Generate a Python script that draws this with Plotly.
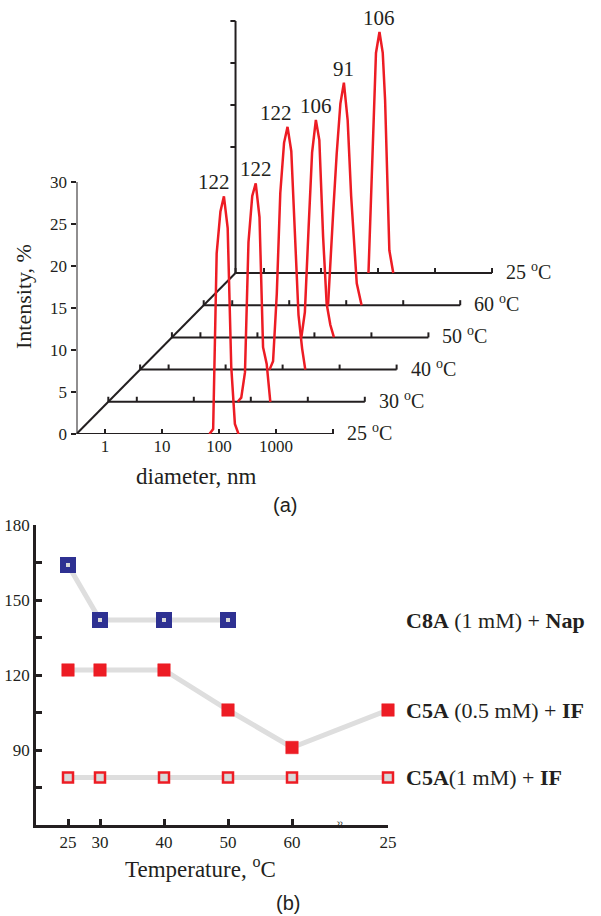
import numpy as np
import plotly.graph_objects as go

# ---------------- data: (a) DLS size distributions ----------------
temp_labels = ["25 <sup>o</sup>C", "30 <sup>o</sup>C", "40 <sup>o</sup>C",
               "50 <sup>o</sup>C", "60 <sup>o</sup>C", "25 <sup>o</sup>C"]

diam_25a = [68, 79, 91, 106, 122, 142, 164, 190, 220]
int_25a = [0, 0.6, 21.5, 26.5, 28.3, 24.5, 8.0, 1.2, 0]

diam_30 = [59, 68, 79, 91, 106, 122, 142, 164, 190, 220]
int_30 = [0, 0.5, 3.5, 19.0, 24.5, 26.0, 22.0, 6.5, 4.5, 0]

diam_40 = [59, 68, 79, 91, 106, 122, 142, 164, 190, 220, 250]
int_40 = [0, 1.0, 9.0, 21.0, 27.0, 28.9, 26.0, 16.0, 6.5, 2.5, 0]

diam_50 = [59, 68, 79, 91, 106, 122, 142, 164, 190, 220]
int_50 = [0, 3.0, 13.0, 22.0, 25.9, 23.5, 12.0, 4.0, 1.5, 0]

diam_60 = [48, 52, 59, 68, 79, 91, 106, 122, 142, 153, 186]
int_60 = [0, 4.6, 11.0, 18.0, 24.0, 26.5, 22.0, 13.0, 6.2, 2.6, 0]

diam_25b = [68, 79, 92, 106, 121, 133, 151, 158, 185]
int_25b = [0, 13.0, 26.2, 28.7, 26.2, 20.6, 6.3, 2.7, 0]

peak_diam = [122, 122, 122, 106, 91, 106]

size_x_ticks = [1, 10, 100, 1000]
intensity_ticks = [0, 5, 10, 15, 20, 25, 30]
back_wall_ticks = [15, 20, 25, 30]

# ---------------- data: (b) peak diameter vs temperature ----------------
step_pos = [25, 30, 40, 50, 60, 75]          # last step = return to 25 after the break
step_labels = ["25", "30", "40", "50", "60", "25"]
c8a_nap = [164, 142, 142, 142]
c5a_05_if = [122, 122, 122, 106, 91, 106]
c5a_1_if = [79, 79, 79, 79, 79, 79]
y_ticks_b = [75, 90, 105, 120, 135, 150, 165, 180]
y_labels_b = ["", "90", "", "120", "", "150", "", "180"]

# ---------------- style ----------------
INK = "#231f20"
RED = "#ed1c24"
NAVY = "#2e3192"
GREY_LINE = "#dedede"
GREY_FILL = "#d9d9d9"
SERIF = "Liberation Serif"
SANS = "Liberation Sans"

W, H = 601, 916
DX, DY = 0.558, 3.833        # oblique offset per temperature step (decades, %)
L_MIN, L_MAX = -0.5, 4.0      # log10 span of every floor line
TICK_UP = 0.6                 # tick length on floor lines (in % units)
TICK_LEFT = 0.09              # tick length on back wall (in decades)


def proj(logd, inten, depth):
    return logd + depth * DX, inten + depth * DY


fig = go.Figure()

# ---- oblique frame of panel (a) ----
fx, fy = [], []


def seg(p, q):
    fx.extend([p[0], q[0], None])
    fy.extend([p[1], q[1], None])


n_depth = len(temp_labels)
# front vertical axis
seg(proj(L_MIN, 0, 0), proj(L_MIN, max(intensity_ticks), 0))
# diagonal temperature axis
seg(proj(L_MIN, 0, 0), proj(L_MIN, 0, n_depth - 1))
for i in range(n_depth):
    seg(proj(L_MIN, 0, i), proj(L_MAX, 0, i))
    # end cap
    x0, y0 = proj(L_MAX, 0, i)
    seg((x0, y0), (x0, y0 + TICK_UP))
    if i > 0:
        x0, y0 = proj(L_MIN, 0, i)
        seg((x0, y0), (x0, y0 + TICK_UP))
        for d in size_x_ticks:
            x0, y0 = proj(np.log10(d), 0, i)
            seg((x0, y0), (x0, y0 + TICK_UP))
# back wall
back = n_depth - 1
seg(proj(L_MIN, 0, back), proj(L_MIN, max(back_wall_ticks), back))
for v in back_wall_ticks:
    x0, y0 = proj(L_MIN, v, back)
    seg((x0, y0), (x0 - TICK_LEFT, y0))

fig.add_trace(go.Scatter(x=fx, y=fy, mode="lines", line=dict(color=INK, width=2),
                         hoverinfo="skip", xaxis="x", yaxis="y"))

# ---- distribution curves ----
curves = [(diam_25a, int_25a), (diam_30, int_30), (diam_40, int_40),
          (diam_50, int_50), (diam_60, int_60), (diam_25b, int_25b)]
label_xshift = [-10, 0, -12, 0, 0, 0]
for i, (dd, ii) in enumerate(curves):
    px, py = proj(np.log10(np.array(dd, dtype=float)), np.array(ii, dtype=float), i)
    fig.add_trace(go.Scatter(x=px, y=py, mode="lines", line=dict(color=RED, width=2.5),
                             hoverinfo="skip", xaxis="x", yaxis="y"))
    k = int(np.argmax(ii))
    lx, ly = proj(np.log10(peak_diam[i]), ii[k], i)
    fig.add_annotation(x=lx, y=ly, xref="x", yref="y", text=str(peak_diam[i]),
                       showarrow=False, xanchor="center", yanchor="bottom",
                       yshift=0, xshift=label_xshift[i],
                       font=dict(family=SERIF, size=21, color=INK))
    tx, ty = proj(L_MAX, 0, i)
    fig.add_annotation(x=tx, y=ty, xref="x", yref="y", text=temp_labels[i],
                       showarrow=False, xanchor="left", yanchor="middle",
                       xshift=12, yshift=2,
                       font=dict(family=SERIF, size=20, color=INK))

# ---- panel (b) ----
series_b = [
    (step_pos[:len(c8a_nap)], c8a_nap, dict(symbol="square", size=10, color=GREY_FILL,
                                              line=dict(color=NAVY, width=6)),
     "<b>C8A</b> (1 mM) + <b>Nap</b>"),
    (step_pos, c5a_05_if, dict(symbol="square", size=12.5, color=RED,
                               line=dict(color=RED, width=0.5)),
     "<b>C5A</b> (0.5 mM) + <b>IF</b>"),
    (step_pos, c5a_1_if, dict(symbol="square", size=10, color=GREY_FILL,
                              line=dict(color=RED, width=2.5)),
     "<b>C5A</b>(1 mM) + <b>IF</b>"),
]
for xs, ys, mk, name in series_b:
    fig.add_trace(go.Scatter(x=xs, y=ys, mode="lines+markers",
                             line=dict(color=GREY_LINE, width=5), marker=mk,
                             hoverinfo="skip", xaxis="x2", yaxis="y2", cliponaxis=False))
    fig.add_annotation(x=step_pos[-1], y=ys[-1], xref="x2", yref="y2", text=name,
                       showarrow=False, xanchor="left", yanchor="middle",
                       xshift=16, yshift=0,
                       font=dict(family=SERIF, size=22, color=INK))

# axis break mark
fig.add_annotation(x=67.5, y=60, xref="x2", yref="y2", text="≈", textangle=90,
                   xanchor="center", yanchor="middle",
                   showarrow=False, font=dict(family=SERIF, size=14, color=INK))

# ---- titles and panel letters ----
paper_text = [
    (196, 476, "diameter, nm", 0, dict(family=SERIF, size=23, color=INK)),
    (23, 297, "Intensity, %", -90, dict(family=SERIF, size=22, color=INK)),
    (200, 867, "Temperature, <sup>o</sup>C", 0, dict(family=SERIF, size=23, color=INK)),
    (285, 505, "(a)", 0, dict(family=SANS, size=20, color=INK)),
    (288, 903, "(b)", 0, dict(family=SANS, size=20, color=INK)),
]
for px_, py_, txt, ang, fnt in paper_text:
    fig.add_annotation(x=px_ / W, y=1 - py_ / H, xref="paper", yref="paper",
                       text=txt, textangle=ang, showarrow=False,
                       xanchor="center", yanchor="middle", font=fnt)

tick_font = dict(family=SERIF, size=17, color=INK)
fig.update_layout(
    width=W, height=H, margin=dict(l=0, r=0, t=0, b=0, autoexpand=False),
    paper_bgcolor="white", plot_bgcolor="white", showlegend=False,
    xaxis=dict(domain=[76.5 / W, 589.5 / W], range=[-0.5, 8.5], anchor="y",
               showgrid=False, zeroline=False, showline=False, automargin=False,
               tickmode="array", tickvals=list(np.log10(size_x_ticks)),
               ticktext=[str(v) for v in size_x_ticks],
               ticks="inside", ticklen=5, tickwidth=2, tickcolor=INK,
               tickfont=tick_font),
    yaxis=dict(domain=[1 - 434 / H, 1 - 5.6 / H], range=[0, 51], anchor="x",
               showgrid=False, zeroline=False, showline=False, automargin=False,
               tickmode="array", tickvals=intensity_ticks,
               ticks="outside", ticklen=5, tickwidth=2, tickcolor=INK,
               tickfont=tick_font),
    xaxis2=dict(domain=[36 / W, 388 / W], range=[20, 75], anchor="y2", automargin=False,
                showgrid=False, zeroline=False, showline=True, linecolor=INK, linewidth=2.5,
                tickmode="array", tickvals=step_pos, ticktext=step_labels,
                ticks="inside", ticklen=6, tickwidth=2.5, tickcolor=INK,
                tickfont=tick_font),
    yaxis2=dict(domain=[1 - 825 / H, 1 - 525 / H], range=[60, 180], anchor="x2",
                automargin=False,
                showgrid=False, zeroline=False, showline=True, linecolor=INK, linewidth=2.5,
                tickmode="array", tickvals=y_ticks_b, ticktext=y_labels_b,
                ticks="inside", ticklen=6, tickwidth=2.5, tickcolor=INK,
                tickfont=tick_font),
)

fig.write_html("out.html")
